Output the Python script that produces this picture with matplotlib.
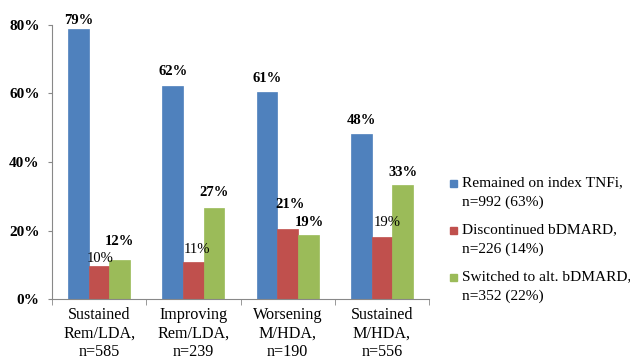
import matplotlib
matplotlib.use("Agg")
import matplotlib.pyplot as plt
import numpy as np
from matplotlib.patches import Rectangle

categories = ["Sustained\nRem/LDA,\nn=585", "Improving\nRem/LDA,\nn=239",
              "Worsening\nM/HDA,\nn=190", "Sustained\nM/HDA,\nn=556"]
series_names = ["Remained on index TNFi,\nn=992 (63%)",
                "Discontinued bDMARD,\nn=226 (14%)",
                "Switched to alt. bDMARD,\nn=352 (22%)"]
remained = [78.8, 62.2, 60.5, 48.2]
discontinued = [9.6, 10.7, 20.3, 18.2]
switched = [11.3, 26.7, 18.8, 33.2]
remained_lbl = ["79%", "62%", "61%", "48%"]
discontinued_lbl = ["10%", "11%", "21%", "19%"]
switched_lbl = ["12%", "27%", "19%", "33%"]
yticks = [0, 20, 40, 60, 80]
ytick_labels = ["0%", "20%", "40%", "60%", "80%"]

colors = ["#4F81BD", "#C0504D", "#9BBB59"]
plt.rcParams['font.family'] = ['Liberation Serif', 'DejaVu Serif']

W, H = 630, 362
fig = plt.figure(figsize=(6.3, 3.62), dpi=100)
ax = fig.add_axes([52/W, 63/H, (429-52)/W, 274/H])

x = np.arange(len(categories))
w = 0.22
data = [remained, discontinued, switched]
labels = [remained_lbl, discontinued_lbl, switched_lbl]
for i, (vals, c) in enumerate(zip(data, colors)):
    ax.bar(x + (i-1)*w, vals, width=w, color=c, edgecolor=c, linewidth=0.5)

# label offsets in pixels (dx, height of label centre above bar top) and boldness
offsets = {
    (0, 0): (0, 9, True), (0, 1): (0, 14, True), (0, 2): (0, 13, True), (0, 3): (0, 13, True),
    (1, 0): (1, 8, False), (1, 1): (4, 13, False), (1, 2): (2, 25, True), (1, 3): (5, 14.5, False),
    (2, 0): (0, 19, True), (2, 1): (0, 15, True), (2, 2): (1, 12, True), (2, 3): (0, 13, True),
}
for i, (vals, lbls) in enumerate(zip(data, labels)):
    for j, (v, t) in enumerate(zip(vals, lbls)):
        dx, dy, bold = offsets[(i, j)]
        ax.annotate(t, (x[j] + (i-1)*w, v), xytext=(dx*0.72, dy*0.72), textcoords="offset points",
                    ha="center", va="center", fontsize=10.5,
                    fontweight="bold" if bold else "normal")

ax.set_xlim(-0.5, 3.5)
ax.set_ylim(0, 80)
ax.set_yticks(yticks)
ax.set_yticklabels(ytick_labels, fontsize=11, fontweight="bold")
ax.set_xticks(x)
ax.set_xticklabels(categories, fontsize=11.6, linespacing=1.2)
ax.set_xticks(np.arange(-0.5, 4, 1), minor=True)
ax.tick_params(axis="x", which="major", length=0, pad=6)
ax.tick_params(axis="x", which="minor", length=4, color="#888888")
ax.tick_params(axis="y", length=3, color="#888888", pad=6)
for s in ["top", "right"]:
    ax.spines[s].set_visible(False)
for s in ["left", "bottom"]:
    ax.spines[s].set_color("#888888")

# legend (drawn manually so markers align with first text line)
ys = [183, 230, 277]
for name, c, y in zip(series_names, colors, ys):
    fig.patches.append(Rectangle((450/W, 1 - (y + 3.5)/H), 7/W, 7/H,
                                 transform=fig.transFigure, facecolor=c, edgecolor=c))
    first, second = name.split("\n")
    fig.text(462/W, 1 - y/H, first, ha="left", va="center", fontsize=11.1)
    fig.text(462/W, 1 - (y + 19)/H, second, ha="left", va="center", fontsize=11.1)

fig.savefig("out.png", dpi=100, facecolor="white")
